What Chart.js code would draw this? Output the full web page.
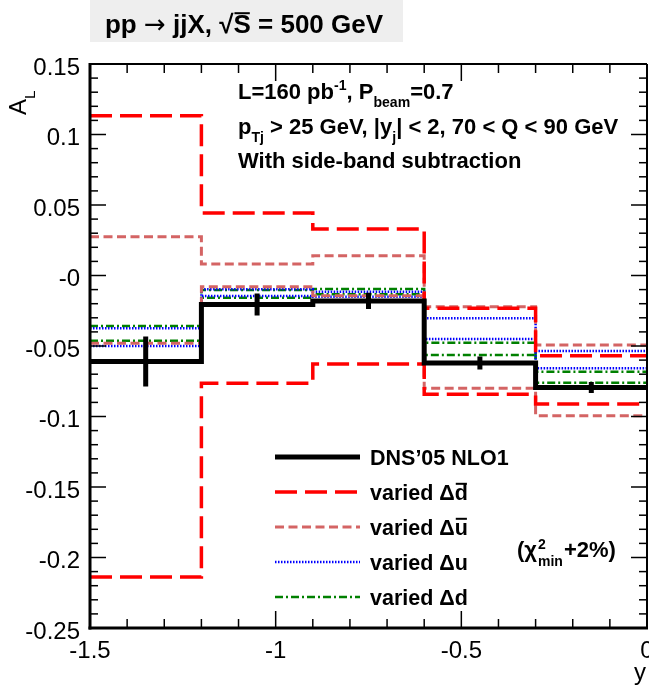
<!DOCTYPE html>
<html>
<head>
<meta charset="utf-8">
<script src="https://cdn.jsdelivr.net/npm/chart.js@4.4.1/dist/chart.umd.min.js"></script>
<style>
    html, body { margin: 0; padding: 0; background: #fff; }
    #wrap { width: 649px; height: 689px; }
</style>
</head>
<body>
<div id="wrap"><canvas id="chart" width="649" height="689"></canvas></div>
<script>
// Rapidity bins
const binEdges = [-1.5, -1.2, -0.9, -0.6, -0.3, 0];
const binCenters = [-1.35, -1.05, -0.75, -0.45, -0.15];

// DNS'05 NLO1 central values and statistical errors
const dnsValues = [-0.061, -0.0205, -0.018, -0.062, -0.0794];
const dnsErrors = [0.0177, 0.0078, 0.0057, 0.0046, 0.0039];

// varied PDF bands (upper / lower curves)
const dbarUp   = [0.1133, 0.0443, 0.033, -0.0233, -0.0569];
const dbarDown = [-0.2138, -0.0765, -0.0628, -0.0843, -0.0911];
const ubarUp   = [0.0275, 0.0082, 0.014, -0.0221, -0.0493];
const ubarDown = [-0.0481, -0.0079, -0.0143, -0.080, -0.0994];
const duUp     = [-0.0374, -0.0098, -0.0115, -0.0304, -0.0535];
const duDown   = [-0.050, -0.0145, -0.015, -0.045, -0.0658];
const ddUp     = [-0.0358, -0.0103, -0.0096, -0.0477, -0.0682];
const ddDown   = [-0.0462, -0.0157, -0.0133, -0.0564, -0.076];

// axis ticks
const xTicks = [-1.5, -1, -0.5, 0];
const yTicks = [0.15, 0.1, 0.05, 0, -0.05, -0.1, -0.15, -0.2, -0.25];

const FONT = '"Liberation Sans", Arial, Helvetica, sans-serif';

const styles = {
    dns:  { color: '#000000', width: 5,   dash: [] },
    dbar: { color: '#ff0000', width: 3.5, dash: [22, 8] },
    ubar: { color: '#d46464', width: 3,   dash: [9, 4.5] },
    du:   { color: '#0000ff', width: 2.5, dash: [1.5, 1.5] },
    dd:   { color: '#008000', width: 2.5, dash: [8, 3, 2, 3] }
};

// histogram outline: one point per left edge, plus the right edge
function histPoints(values) {
    return binEdges.map((x, i) => ({ x: x, y: values[Math.min(i, values.length - 1)] }));
}

// vertical error bars, broken with null points
function errorBarPoints() {
    const pts = [];
    binCenters.forEach((c, i) => {
        pts.push({ x: c, y: dnsValues[i] - dnsErrors[i] });
        pts.push({ x: c, y: dnsValues[i] + dnsErrors[i] });
        pts.push({ x: c, y: null });
    });
    return pts;
}

function histDataset(values, st) {
    return {
        data: histPoints(values),
        borderColor: st.color,
        borderWidth: st.width,
        borderDash: st.dash,
        borderCapStyle: 'butt',
        borderJoinStyle: 'miter',
        stepped: true,
        pointRadius: 0,
        fill: false
    };
}

function runFont(kind, size, weight) {
    if (kind === 'arrow') return 'normal ' + size + 'px "DejaVu Sans", sans-serif';
    const s = (kind === 'sup' || kind === 'sub') ? size * 0.64 : size;
    return weight + ' ' + s + 'px ' + FONT;
}

// draw a run of text pieces: [text, kind] kind = '' | 'sup' | 'sub' | 'bar' | 'arrow'
function drawRich(ctx, x, y, runs, size, weight) {
    let cx = x;
    runs.forEach(([t, kind]) => {
        let dy = 0;
        if (kind === 'sup') dy = -size * 0.42;
        if (kind === 'sub') dy = size * 0.36;
        ctx.font = runFont(kind, size, weight);
        ctx.fillText(t, cx, y + dy);
        const w = ctx.measureText(t).width;
        if (kind === 'bar') {
            ctx.fillRect(cx + 1, y - size * 0.8, w - 2, 2);
        }
        cx += w;
    });
    return cx;
}

function richWidth(ctx, runs, size, weight) {
    let w = 0;
    runs.forEach(([t, kind]) => {
        ctx.font = runFont(kind, size, weight);
        w += ctx.measureText(t).width;
    });
    return w;
}

const frameAndText = {
    id: 'frameAndText',
    afterDatasetsDraw(chart) {
        const { ctx, chartArea: a, scales: { x, y } } = chart;
        ctx.save();
        ctx.strokeStyle = '#000';
        ctx.setLineDash([]);

        function seg(x1, y1, x2, y2) {
            ctx.beginPath();
            ctx.moveTo(x1, y1);
            ctx.lineTo(x2, y2);
            ctx.stroke();
        }

        // inward ticks, left and right
        ctx.lineWidth = 1.5;
        for (let i = 0; i <= 40; i++) {
            const py = y.getPixelForValue(-0.25 + i * 0.01);
            const len = i % 5 === 0 ? 16 : 8;
            seg(a.left, py, a.left + len, py);
            seg(a.right, py, a.right - len, py);
        }
        // inward ticks, bottom and top
        for (let i = 0; i <= 15; i++) {
            const px = x.getPixelForValue(-1.5 + i * 0.1);
            const len = i % 5 === 0 ? 17 : 9;
            seg(px, a.bottom, px, a.bottom - len);
            seg(px, a.top, px, a.top + len);
        }

        // frame
        ctx.lineWidth = 2;
        seg(a.left, a.top, a.right, a.top);
        seg(a.right, a.top, a.right, a.bottom);
        ctx.lineWidth = 3;
        seg(a.left, a.top - 1, a.left, a.bottom + 1.5);
        seg(a.left - 1.5, a.bottom, a.right + 1, a.bottom);
        ctx.restore();
    },
    afterDraw(chart) {
        const { ctx } = chart;
        ctx.save();
        ctx.fillStyle = '#000';
        ctx.textBaseline = 'alphabetic';
        ctx.textAlign = 'left';

        // title box
        ctx.fillStyle = '#eeeeee';
        ctx.fillRect(90, 0, 313, 42);
        ctx.fillStyle = '#000';
        const titleRuns = [['pp ', ''], ['\u2192', 'arrow'], [' jjX, \u221A', ''], ['S', 'bar'], [' = 500 GeV', '']];
        const tw = richWidth(ctx, titleRuns, 26, 'bold');
        drawRich(ctx, 244 - tw / 2, 33, titleRuns, 26, 'bold');

        // annotations
        drawRich(ctx, 238, 99, [['L=160 pb', ''], ['-1', 'sup'], [', P', ''], ['beam', 'sub'], ['=0.7', '']], 22, 'bold');
        drawRich(ctx, 238, 134, [['p', ''], ['Tj', 'sub'], [' > 25 GeV, |y', ''], ['j', 'sub'], ['| < 2, 70 < Q < 90 GeV', '']], 22, 'bold');
        drawRich(ctx, 238, 168, [['With side-band subtraction', '']], 22, 'bold');

        // legend
        const legendRows = [
            { st: styles.dns,  y: 457, runs: [['DNS\u201905 NLO1', '']] },
            { st: styles.dbar, y: 492, runs: [['varied \u0394', ''], ['d', 'bar']] },
            { st: styles.ubar, y: 527, runs: [['varied \u0394', ''], ['u', 'bar']] },
            { st: styles.du,   y: 562, runs: [['varied \u0394u', '']] },
            { st: styles.dd,   y: 597, runs: [['varied \u0394d', '']] }
        ];
        legendRows.forEach(row => {
            ctx.strokeStyle = row.st.color;
            ctx.lineWidth = row.st.width;
            ctx.setLineDash(row.st.dash);
            ctx.lineCap = 'butt';
            ctx.beginPath();
            ctx.moveTo(275, row.y);
            ctx.lineTo(360, row.y);
            ctx.stroke();
            ctx.setLineDash([]);
            drawRich(ctx, 370, row.y + 8, row.runs, 21.5, 'bold');
        });

        // (chi2_min + 2%)
        ctx.font = 'bold 22px ' + FONT;
        let cx = 517;
        ctx.fillText('(\u03C7', cx, 557);
        cx += ctx.measureText('(\u03C7').width;
        ctx.font = 'bold 14px ' + FONT;
        ctx.fillText('2', cx + 1, 549);
        ctx.fillText('min', cx + 1, 566);
        cx += ctx.measureText('min').width + 2;
        ctx.font = 'bold 22px ' + FONT;
        ctx.fillText('+2%)', cx, 557);

        // axis titles
        ctx.font = '24px ' + FONT;
        ctx.textAlign = 'right';
        ctx.fillText('y', 646, 680);
        ctx.textAlign = 'left';
        ctx.save();
        ctx.translate(26, 115);
        ctx.rotate(-Math.PI / 2);
        drawRich(ctx, 0, 0, [['A', ''], ['L', 'sub']], 24, 'normal');
        ctx.restore();

        ctx.restore();
    }
};

const datasets = [
    { data: histPoints(dnsValues), borderColor: styles.dns.color, borderWidth: styles.dns.width,
      borderCapStyle: 'butt', borderJoinStyle: 'miter', stepped: true, pointRadius: 0, fill: false },
    { data: errorBarPoints(), borderColor: '#000', borderWidth: 5, borderCapStyle: 'butt',
      spanGaps: false, pointRadius: 0, fill: false },
    histDataset(dbarUp, styles.dbar),
    histDataset(dbarDown, styles.dbar),
    histDataset(ubarUp, styles.ubar),
    histDataset(ubarDown, styles.ubar),
    histDataset(duUp, styles.du),
    histDataset(duDown, styles.du),
    histDataset(ddUp, styles.dd),
    histDataset(ddDown, styles.dd)
];

new Chart(document.getElementById('chart'), {
    type: 'line',
    data: { datasets: datasets },
    options: {
        responsive: false,
        animation: false,
        devicePixelRatio: 1,
        layout: { padding: { top: 64, right: 2, left: 0, bottom: 0 } },
        plugins: { legend: { display: false }, tooltip: { enabled: false } },
        elements: { line: { tension: 0 } },
        scales: {
            x: {
                type: 'linear',
                min: -1.5,
                max: 0,
                grid: { display: false, drawTicks: false },
                border: { display: false },
                afterBuildTicks: s => { s.ticks = xTicks.map(v => ({ value: v })); },
                afterFit: s => { s.height = 61; s.paddingLeft = 0; s.paddingRight = 0; },
                ticks: {
                    color: '#000',
                    padding: 9,
                    maxRotation: 0,
                    autoSkip: false,
                    font: { family: FONT, size: 24 },
                    callback: v => String(v)
                }
            },
            y: {
                type: 'linear',
                min: -0.25,
                max: 0.15,
                grid: { display: false, drawTicks: false },
                border: { display: false },
                afterBuildTicks: s => { s.ticks = yTicks.map(v => ({ value: v })); },
                afterFit: s => { s.width = 90; s.paddingTop = 0; s.paddingBottom = 0; },
                ticks: {
                    color: '#000',
                    padding: 10,
                    labelOffset: 4,
                    autoSkip: false,
                    font: { family: FONT, size: 24 },
                    callback: v => (v === 0 ? '-0' : String(v))
                }
            }
        }
    },
    plugins: [frameAndText]
});
</script>
</body>
</html>
